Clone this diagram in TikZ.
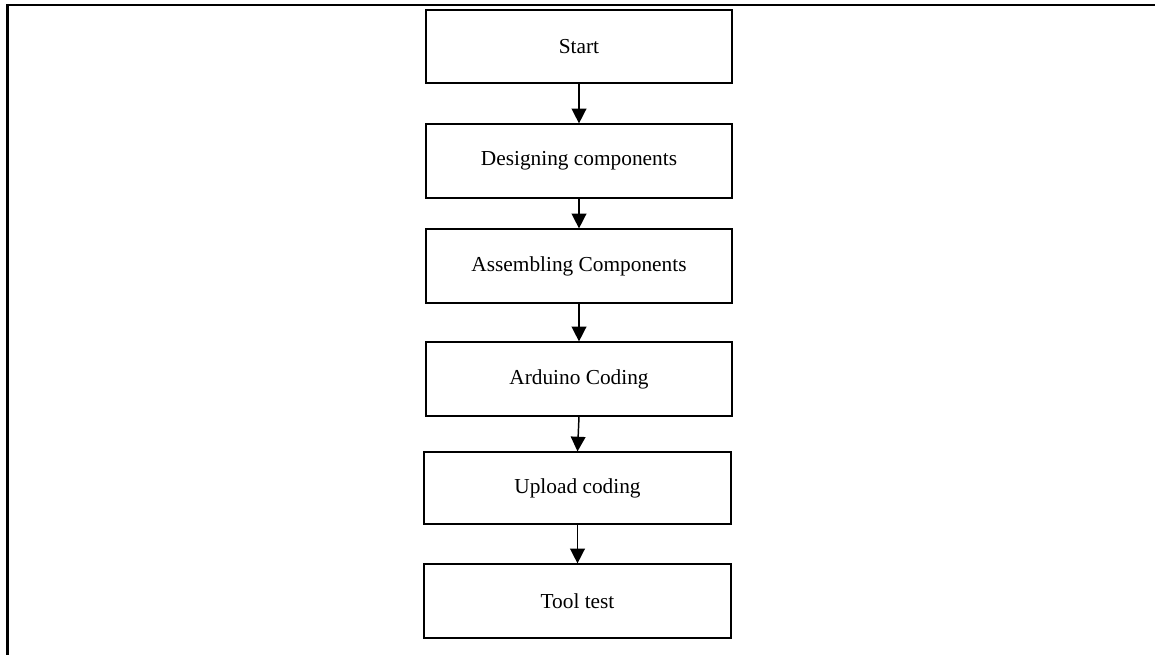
\documentclass[tikz,border=0pt]{standalone}
\usepackage{fontspec}
\setmainfont{Liberation Serif}
\usetikzlibrary{arrows.meta}
\begin{document}
\begin{tikzpicture}[x=0.75pt,y=-0.75pt,
  stepbox/.style={draw=black,line width=0.9pt,fill=white,inner sep=0pt,
    font=\fontsize{16}{19}\selectfont},
  flow/.style={draw=black,line width=1.1pt,-{Triangle[width=11pt,length=11pt]}},
  frame/.style={draw=black,line width=1.8pt}]
\useasboundingbox (0,0) rectangle (1155,655);
\draw[frame] (7.5,655) -- (7.5,5) -- (1155,5);
\node[stepbox,minimum width=229.5pt,minimum height=54.75pt] (s1) at (579,46.5) {Start};
\node[stepbox,minimum width=229.5pt,minimum height=55.5pt] (s2) at (579,161) {Designing components};
\node[stepbox,minimum width=229.5pt,minimum height=55.5pt] (s3) at (579,266) {Assembling Components};
\node[stepbox,minimum width=229.5pt,minimum height=55.5pt] (s4) at (579,379) {Arduino Coding};
\node[stepbox,minimum width=230.25pt,minimum height=54pt] (s5) at (577.5,488) {Upload coding};
\node[stepbox,minimum width=230.25pt,minimum height=55.5pt] (s6) at (577.5,601) {Tool test};
\draw[flow] (s1.south) -- (s2.north);
\draw[flow] (s2.south) -- (s3.north);
\draw[flow] (s3.south) -- (s4.north);
\draw[flow] (s4.south) -- (s5.north);
\draw[flow] (s5.south) -- (s6.north);
\end{tikzpicture}
\end{document}
